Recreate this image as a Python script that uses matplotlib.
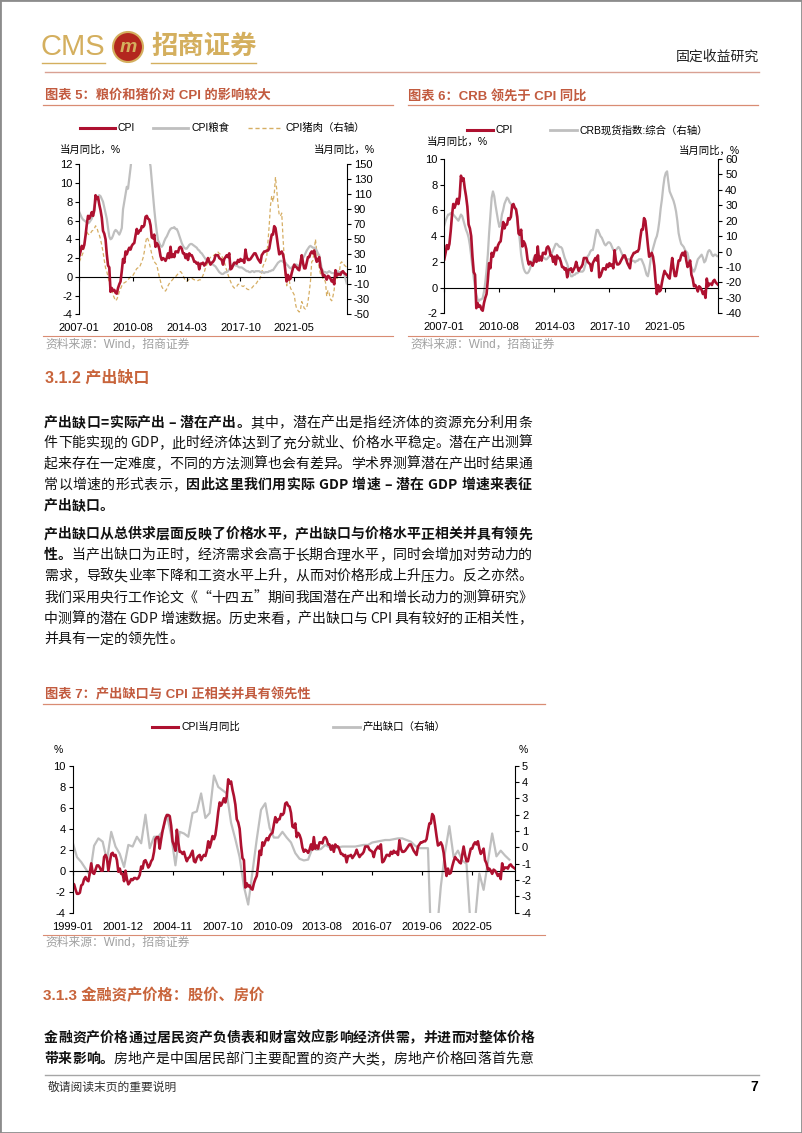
import matplotlib
matplotlib.use('Agg')
import matplotlib.pyplot as plt
import numpy as np
from matplotlib.lines import Line2D
from matplotlib.patches import Ellipse, Rectangle
from matplotlib.font_manager import FontProperties, findfont
from matplotlib.ft2font import FT2Font

plt.rcParams['font.family'] = ['Liberation Sans', 'Noto Sans CJK SC', 'DejaVu Sans']
plt.rcParams['axes.unicode_minus'] = False

# ---------------- data ----------------
# CPI 当月同比, 1999-01 .. 2024-11
cpi = [
    -1.2, -1.3, -1.8, -2.2, -2.2, -2.1, -1.4, -1.3, -0.8, -0.6, -0.9, -1.0,
    -0.2, 0.7, -0.2, -0.3, 0.1, 0.5, 0.5, 0.3, 0.0, 0.0, 1.3, 1.5,
    1.2, 0.0, 0.8, 1.6, 1.7, 1.4, 1.5, 1.0, -0.1, 0.2, -0.3, -0.3,
    -1.0, 0.0, -0.8, -1.3, -1.1, -0.8, -0.9, -0.7, -0.7, -0.8, -0.7, -0.4,
    0.4, 0.2, 0.9, 1.0, 0.7, 0.3, 0.5, 0.9, 1.1, 1.8, 3.0, 3.2,
    3.2, 2.1, 3.0, 3.8, 4.4, 5.0, 5.3, 5.3, 5.2, 4.3, 2.8, 2.4,
    1.9, 3.9, 2.7, 1.8, 1.8, 1.6, 1.8, 1.3, 0.9, 1.2, 1.3, 1.6,
    1.9, 0.9, 0.8, 1.2, 1.4, 1.5, 1.0, 1.3, 1.5, 1.4, 1.9, 2.8,
    2.2, 2.7, 3.3, 3.0, 3.4, 4.4, 5.6, 6.5, 6.2, 6.5, 6.9, 6.5,
    7.1, 8.7, 8.3, 8.5, 7.7, 7.1, 6.3, 4.9, 4.6, 4.0, 2.4, 1.2,
    1.0, -1.6, -1.2, -1.5, -1.4, -1.7, -1.8, -1.2, -0.8, -0.5, 0.6, 1.9,
    1.5, 2.7, 2.4, 2.8, 3.1, 2.9, 3.3, 3.5, 3.6, 4.4, 5.1, 4.6,
    4.9, 4.9, 5.4, 5.3, 5.5, 6.4, 6.5, 6.2, 6.1, 5.5, 4.2, 4.1,
    4.5, 3.2, 3.6, 3.4, 3.0, 2.2, 1.8, 2.0, 1.9, 1.7, 2.0, 2.5,
    2.0, 3.2, 2.1, 2.4, 2.1, 2.7, 2.7, 2.6, 3.1, 3.2, 3.0, 2.5,
    2.5, 2.0, 2.4, 1.8, 2.5, 2.3, 2.3, 2.0, 1.6, 1.6, 1.4, 1.5,
    0.8, 1.4, 1.4, 1.5, 1.2, 1.4, 1.6, 2.0, 1.6, 1.3, 1.5, 1.6,
    1.8, 2.3, 2.3, 2.3, 2.0, 1.9, 1.8, 1.3, 1.9, 2.1, 2.3, 2.1,
    2.5, 0.8, 0.9, 1.2, 1.5, 1.5, 1.4, 1.8, 1.6, 1.9, 1.7, 1.8,
    1.5, 2.9, 2.1, 1.8, 1.8, 1.9, 2.1, 2.3, 2.5, 2.5, 2.2, 1.9,
    1.7, 1.5, 2.3, 2.5, 2.7, 2.7, 2.8, 2.8, 3.0, 3.8, 4.5, 4.5,
    5.4, 5.2, 4.3, 3.3, 2.4, 2.5, 2.7, 2.4, 1.7, 0.5, -0.5, 0.2,
    -0.3, -0.2, 0.4, 0.9, 1.3, 1.1, 1.0, 0.8, 0.7, 1.5, 2.3, 1.5,
    0.9, 0.9, 1.5, 2.1, 2.1, 2.5, 2.7, 2.5, 2.8, 2.1, 1.6, 1.8,
    2.1, 1.0, 0.7, 0.1, 0.2, 0.0, -0.3, 0.1, 0.0, -0.2, -0.5, -0.3,
    -0.8, 0.7, 0.1, 0.3, 0.3, 0.2, 0.5, 0.6, 0.4, 0.3, 0.2,
]

# CPI粮食, 2007-01 .. 2024-11
grain = [
    6.9, 6.6, 6.3, 6.1, 6.0, 5.9, 5.8, 5.7, 5.8, 6.0, 6.2, 6.8,
    7.5, 8.0, 8.3, 8.6, 8.7, 8.6, 8.3, 8.0, 7.4, 6.8, 6.2, 5.2,
    4.3, 4.0, 4.1, 4.4, 4.8, 5.0, 4.9, 4.7, 4.5, 4.8, 5.2, 7.2,
    8.0, 8.8, 9.6, 9.4, 10.5, 11.6, 12.8, 13.6, 14.2, 14.5, 14.8, 15.0,
    14.7, 14.3, 14.0, 13.8, 13.5, 13.4, 13.2, 12.9, 12.5, 11.8, 10.2, 8.7,
    7.2, 5.9, 4.8, 3.9, 3.6, 3.3, 3.2, 3.4, 3.8, 4.1, 4.3, 4.6,
    4.9, 5.1, 5.2, 5.2, 5.3, 5.1, 5.1, 4.8, 4.4, 4.0, 3.6, 3.3,
    3.1, 3.0, 3.0, 3.2, 3.4, 3.5, 3.5, 3.4, 3.3, 3.2, 3.1, 2.9,
    2.8, 2.6, 2.5, 2.3, 2.1, 1.9, 1.8, 1.7, 1.6, 1.5, 1.4, 1.3,
    1.2, 1.1, 0.9, 0.7, 0.5, 0.4, 0.3, 0.3, 0.4, 0.5, 0.5, 0.6,
    0.8, 1.0, 1.2, 1.4, 1.3, 1.2, 1.2, 1.1, 1.0, 1.0, 1.0, 0.9,
    0.8, 0.7, 0.6, 0.6, 0.5, 0.5, 0.6, 0.6, 0.5, 0.6, 0.6, 0.6,
    0.6, 0.5, 0.5, 0.5, 0.4, 0.5, 0.5, 0.5, 0.6, 0.6, 0.7, 0.7,
    0.9, 1.1, 1.3, 1.5, 1.6, 1.7, 1.7, 1.6, 1.5, 1.5, 1.3, 1.2,
    1.0, 0.9, 1.0, 1.1, 1.2, 1.3, 1.3, 1.2, 1.1, 1.2, 1.6, 2.0,
    2.2, 2.5, 2.8, 3.0, 3.2, 3.3, 3.2, 3.1, 3.1, 3.0, 2.8, 2.5,
    2.3, 1.6, 0.9, 0.6, 0.5, 0.5, 0.4, 0.5, 0.6, 0.5, 0.4, 0.4,
    0.4, 0.3, 0.5, 0.6, 0.5, 0.5, 0.4, 0.5, 0.3, -0.2, -0.7,
]

# CPI猪肉 (右轴), 2007-01 .. 2024-11
pork = [
    20, 24, 28, 32, 42, 55, 60, 57, 56, 58, 61, 62,
    64, 68, 66, 60, 56, 50, 42, 33, 22, 12, 7, 0,
    -8, -13, -18, -24, -28, -32, -30, -26, -20, -16, -12, -9,
    -8, -7, -6, -4, -2, 0, 0, 2, 5, 8, 11, 12,
    12, 16, 20, 25, 33, 45, 53, 50, 45, 38, 30, 24,
    20, 18, 16, 8, 0, -6, -13, -16, -18, -19, -16, -12,
    -9, -7, -5, -3, -1, 0, 2, 4, 6, 7, 5, 2,
    -2, -5, -6, -5, -3, -2, -2, -3, -4, -4, -5, -5,
    -4, -4, -2, 2, 6, 12, 16, 20, 24, 26, 27, 28,
    29, 30, 33, 33, 31, 30, 28, 24, 20, 14, 8, 3,
    -2, -6, -10, -13, -15, -15, -13, -10, -10, -11, -12, -13,
    -12, -14, -16, -17, -17, -16, -15, -13, -11, -10, -8, -5,
    -5, 0, 5, 14, 18, 21, 27, 47, 69, 95, 108, 100,
    110, 133, 116, 97, 82, 81, 85, 53, 25, -3, -12, -1,
    -4, -15, -18, -21, -24, -36, -43, -45, -47, -44, -33, -37,
    -42, -43, -41, -33, -21, -6, 20, 22, 36, 50, 34, 22,
    12, 4, 9, -3, -3, -7, -26, -18, -22, -30, -32, -26,
    -17, -1, -2, -2, 5, 18, 20, 16, 16, 14, 13,
]

# CRB现货指数:综合 (右轴), 2007-01 .. 2024-11
crb = [
    17, 20, 22, 24, 24, 25, 25, 24, 23, 22, 21, 20,
    22, 24, 23, 20, 17, 14, 12, 9, 4, -3, -10, -17,
    -23, -28, -31, -32, -31, -31, -30, -26, -20, -12, -2, 12,
    24, 35, 39, 36, 30, 25, 20, 16, 18, 24, 27, 31,
    33, 35, 34, 32, 31, 30, 30, 29, 27, 20, 14, 7,
    -2, -7, -11, -13, -14, -14, -13, -11, -8, -6, -4, -3,
    -2, -2, -3, -3, -4, -4, -4, -5, -5, -4, -3, -2,
    -1, 1, 3, 5, 5, 4, 3, 3, 2, -1, -4, -6,
    -8, -11, -14, -16, -16, -15, -15, -14, -14, -13, -13, -13,
    -13, -12, -9, -6, -3, -2, 0, 1, 1, 5, 10, 14,
    14, 12, 10, 9, 7, 5, 4, 5, 6, 6, 5, 3,
    1, 0, 1, 2, 3, 2, 0, -2, -4, -4, -5, -5,
    -5, -5, -6, -6, -6, -7, -6, -6, -5, -5, -5, -7,
    -9, -12, -15, -16, -12, -6, -1, 2, 5, 8, 10, 14,
    20, 28, 34, 42, 48, 51, 52, 45, 39, 37, 35, 33,
    30, 26, 20, 12, 8, 5, 4, 3, 1, 0, -1, -5,
    -8, -10, -12, -13, -11, -8, -5, -4, -3, -2, -4, -7,
    -6, -3, 0, 1, 0, -2, -3, -2, -2, -3, -3,
]

# 产出缺口 (右轴), quarterly 1999Q1 .. 2024Q3
gap = [
    0.3, -0.6, -0.9, -1.3, -1.7, 0.1, 0.55, 0.35, -0.8, 0.95, 0.05, -0.4,
    -1.2, 0.15, 0.05, 0.65,
    0.25, 2.0, -0.05, 0.65,
    0.65, 1.0, 2.0, 0.75,
    -1.1, 0.95, 0.85, 0.65,
    2.1, 2.2, 3.3, 1.8,
    2.1, 4.4, 3.7, 3.5,
    3.3, 1.5, 0.5, -0.6,
    -2.4, -3.5, -1.5, 0.5,
    2.3, 2.7, 1.2, 0.6,
    0.6, 0.95, 0.6, 0.3,
    -0.35, -0.7, -0.8, -0.75,
    -0.05, -0.15, -0.1, 0.15,
    0.0, -0.05, 0.0, 0.05,
    0.05, 0.05, 0.05, 0.1,
    0.15, 0.15, 0.3, 0.35,
    0.4, 0.45, 0.45, 0.5,
    0.55, 0.55, 0.45, 0.35,
    0.1, -0.05, -0.05, -0.05,
    -8.0, -5.5, -2.4, -0.3,
    1.3, -0.6, -0.2, -0.8,
    -1.0, -5.0, -4.5, -1.6,
    -2.6, -0.9, 0.85, -0.55,
    -0.2, -0.5, -0.75,
]

labels_56 = ['2007-01', '2010-08', '2014-03', '2017-10', '2021-05']
labels_7 = ['1999-01', '2001-12', '2004-11', '2007-10', '2010-09',
            '2013-08', '2016-07', '2019-06', '2022-05']

RED = '#AE1130'
GRAY = '#BFBFBF'
TAN = '#D6AE64'
GOLD = '#D4AF5E'
TITLE = '#C25B3F'
RULE = '#D98C73'
SRC = '#A0A0A0'
INK = '#111111'

W, H = 802, 1133
fig = plt.figure(figsize=(W / 100, H / 100), dpi=100)


def fx(x):
    return x / W


def fy(y):
    return 1 - y / H


def box(x0, y0, x1, y1):
    return [fx(x0), fy(y1), (x1 - x0) / W, (y1 - y0) / H]


def hline(x0, x1, y, color, lw=0.9, **kw):
    fig.add_artist(Line2D([fx(x0), fx(x1)], [fy(y), fy(y)], color=color, lw=lw,
                          transform=fig.transFigure, **kw))


def txt(x, y, s, **kw):
    kw.setdefault('va', 'center')
    fig.text(fx(x), fy(y), s, **kw)


def month_idx(lab, y0):
    y, m = lab.split('-')
    return (int(y) - y0) * 12 + int(m) - 1


def make_chart(rect, n, ylim, yticks, ylim2, yticks2, labels, y0):
    ax = fig.add_axes(box(*rect))
    ax2 = ax.twinx()
    ax.set_zorder(ax2.get_zorder() + 1)
    ax.patch.set_visible(False)
    ax.set_xlim(0, n)
    ax.set_ylim(*ylim)
    ax.set_yticks(yticks)
    ax2.set_ylim(*ylim2)
    ax2.set_yticks(yticks2)
    for a in (ax, ax2):
        a.spines['top'].set_visible(False)
        a.spines['bottom'].set_visible(False)
        a.tick_params(axis='y', length=3, width=0.8, pad=2, labelsize=8)
    ax.spines['right'].set_visible(False)
    ax2.spines['left'].set_visible(False)
    ax.spines['left'].set_linewidth(0.8)
    ax2.spines['right'].set_linewidth(0.8)
    ticks = [month_idx(l, y0) for l in labels]
    ax.set_xticks(ticks)
    ax.set_xticklabels(labels)
    ax.tick_params(axis='x', length=0, pad=6.5, labelsize=8)
    # 0 线 + 刻度
    zero = ax.secondary_xaxis((0 - ylim[0]) / (ylim[1] - ylim[0]))
    zero.set_xticks(ticks)
    zero.set_xticklabels([])
    zero.tick_params(length=3, width=0.8)
    zero.spines['bottom'].set_linewidth(0.8)
    return ax, ax2


def legend_item(x0, x1, y, label, **style):
    fig.add_artist(Line2D([fx(x0), fx(x1)], [fy(y), fy(y)], transform=fig.transFigure, **style))
    txt(x1 + 3, y, label, fontsize=7.5)


# ---------------- page header ----------------
fig.add_artist(Rectangle((0, 0), 1, 1, transform=fig.transFigure, fill=False,
                         edgecolor='#8C8C8C', lw=2))
txt(41, 47, 'CMS', fontsize=21, color=GOLD, family='Liberation Sans')
fig.add_artist(Ellipse((fx(128), fy(47)), 30 / W, 30 / H, transform=fig.transFigure,
                       facecolor='#B3261E', edgecolor=GOLD, lw=1.5))
txt(128, 47, 'm', fontsize=14, color=GOLD, weight='bold', style='italic', ha='center')
txt(151, 46, '招商证券', fontsize=19, color=GOLD, family='Noto Sans CJK SC', weight='bold')
hline(42, 105, 63, GOLD, 1.0)
hline(151, 256, 63, GOLD, 1.0)
txt(759, 57, '固定收益研究', fontsize=10, ha='right', color='#222222', family='Noto Sans CJK SC')
hline(45, 759, 72, '#D9A193', 1.0)

# ---------------- chart 5 ----------------
txt(45, 96, '图表 5：粮价和猪价对 CPI 的影响较大', fontsize=9.5, weight='bold', color=TITLE)
hline(43, 393, 105, RULE)
legend_item(80, 115, 128, 'CPI', color=RED, lw=2.2)
legend_item(153, 188, 128, 'CPI粮食', color=GRAY, lw=2.0)
legend_item(248, 282, 128, 'CPI猪肉（右轴）', color=TAN, lw=1.0, ls=(0, (3, 2)))
txt(60, 150, '当月同比，%', fontsize=7.5)
txt(375, 150, '当月同比，%', fontsize=7.5, ha='right')

cpi_07 = cpi[96:]
m5 = np.arange(len(cpi_07))
ax5, ax5r = make_chart((79.3, 164.3, 346.7, 314.3), len(cpi_07) - 1, (-4, 12), range(-4, 13, 2),
                       (-50, 150), range(-50, 151, 20), labels_56, 2007)
ax5r.plot(m5, pork, color=TAN, lw=0.9, ls=(0, (3, 2)))
ax5.plot(m5, grain, color=GRAY, lw=1.6)
ax5.plot(m5, cpi_07, color=RED, lw=1.9)
hline(43, 393, 336, RULE, 0.8)
txt(45, 345, '资料来源：Wind，招商证券', fontsize=8.5, color=SRC)

# ---------------- chart 6 ----------------
txt(408, 96, '图表 6：CRB 领先于 CPI 同比', fontsize=9.5, weight='bold', color=TITLE)
hline(408, 758, 105, RULE)
legend_item(467, 493, 130, 'CPI', color=RED, lw=2.2)
legend_item(550, 577, 130, 'CRB现货指数:综合（右轴）', color=GRAY, lw=2.0)
txt(427, 142, '当月同比，%', fontsize=7.5)
txt(740, 151, '当月同比，%', fontsize=7.5, ha='right')

ax6, ax6r = make_chart((444.3, 159, 718.3, 313.3), len(cpi_07) - 1, (-2, 10), range(-2, 11, 2),
                       (-40, 60), range(-40, 61, 10), labels_56, 2007)
ax6r.plot(m5, crb, color=GRAY, lw=1.6)
ax6.plot(m5, cpi_07, color=RED, lw=1.9)
hline(408, 758, 336, RULE, 0.8)
txt(410, 345, '资料来源：Wind，招商证券', fontsize=8.5, color=SRC)

# ---------------- section 3.1.2 text ----------------
BODY = ['Noto Sans CJK SC', 'DejaVu Sans']
_ft = {}


def advance(ch, weight, size):
    path = findfont(FontProperties(family='Noto Sans CJK SC', weight=weight))
    f = _ft.get(path)
    if f is None:
        f = _ft[path] = FT2Font(path)
    f.set_size(size, 100)
    w = f.load_char(ord(ch)).linearHoriAdvance / 65536
    return w if w > 0 else size * 100 / 72 * 0.5


def body_line(x0, y, runs, x1=None, size=10):
    # 逐字排版, 给了 x1 就两端对齐
    chars = []
    for s, wt in runs:
        for ch in s:
            chars.append((ch, wt, advance(ch, wt, size)))
    total = sum(c[2] for c in chars)
    gap_px = (x1 - x0 - total) / (len(chars) - 1) if x1 else 0
    base = y + 0.36 * size * 100 / 72
    x = x0
    for ch, wt, w in chars:
        if ch != ' ':
            fig.text(fx(x), fy(base), ch, fontsize=size, weight=wt, family=BODY,
                     color=INK, va='baseline')
        x += w + gap_px


txt(45, 378, '3.1.2 产出缺口', fontsize=11.5, weight='bold', color='#C8643B')

B, R = 'bold', 'normal'
X0, X1 = 44, 532
body_line(X0, 421.7, [('产出缺口=实际产出 – 潜在产出。', B), ('其中，潜在产出是指经济体的资源充分利用条', R)], X1)
body_line(X0, 442.3, [('件下能实现的 GDP，此时经济体达到了充分就业、价格水平稳定。潜在产出测算', R)], X1)
body_line(X0, 463, [('起来存在一定难度，不同的方法测算也会有差异。学术界测算潜在产出时结果通', R)], X1)
body_line(X0, 484, [('常以增速的形式表示，', R), ('因此这里我们用实际 GDP 增速 – 潜在 GDP 增速来表征', B)], X1)
body_line(X0, 505, [('产出缺口。', B)])
body_line(X0, 533.3, [('产出缺口从总供求层面反映了价格水平，产出缺口与价格水平正相关并具有领先', B)], X1)
body_line(X0, 554.3, [('性。', B), ('当产出缺口为正时，经济需求会高于长期合理水平，同时会增加对劳动力的', R)], X1)
body_line(X0, 575, [('需求，导致失业率下降和工资水平上升，从而对价格形成上升压力。反之亦然。', R)], X1)
body_line(X0, 596.7, [('我们采用央行工作论文《“十四五”期间我国潜在产出和增长动力的测算研究》', R)], X1)
body_line(X0, 617.7, [('中测算的潜在 GDP 增速数据。历史来看，产出缺口与 CPI 具有较好的正相关性，', R)], X1)
body_line(X0, 638.3, [('并具有一定的领先性。', R)])

# ---------------- chart 7 ----------------
txt(45, 695, '图表 7：产出缺口与 CPI 正相关并具有领先性', fontsize=9.5, weight='bold', color=TITLE)
hline(43, 545, 704, RULE)
legend_item(152, 178, 727, 'CPI当月同比', color=RED, lw=2.2)
legend_item(333, 360, 727, '产出缺口（右轴）', color=GRAY, lw=2.0)
txt(58, 750, '%', fontsize=7.5, ha='center')
txt(523, 750, '%', fontsize=7.5, ha='center')

m7 = np.arange(len(cpi))
mq = np.arange(len(gap)) * 3
ax7, ax7r = make_chart((72.7, 765.7, 515, 912.7), len(cpi) - 1, (-4, 10), range(-4, 11, 2),
                       (-4, 5), range(-4, 6, 1), labels_7, 1999)
ax7r.plot(mq, gap, color=GRAY, lw=1.6)
ax7.plot(m7, cpi, color=RED, lw=1.9)
hline(43, 545, 935, RULE, 0.8)
txt(45, 943, '资料来源：Wind，招商证券', fontsize=8.5, color=SRC)

# ---------------- section 3.1.3 ----------------
txt(43, 996, '3.1.3 金融资产价格：股价、房价', fontsize=11, weight='bold', color='#C8643B')
body_line(X0, 1037, [('金融资产价格通过居民资产负债表和财富效应影响经济供需，并进而对整体价格', B)], 535)
body_line(X0, 1058, [('带来影响。', B), ('房地产是中国居民部门主要配置的资产大类，房地产价格回落首先意', R)], 533)

# ---------------- footer ----------------
hline(45, 759, 1075, '#A6A6A6', 1.0)
txt(48, 1087, '敬请阅读末页的重要说明', fontsize=8.5, color='#333333', family='Noto Sans CJK SC')
txt(758, 1087, '7', fontsize=10, weight='bold', ha='right')

fig.savefig('out.png', dpi=100)
